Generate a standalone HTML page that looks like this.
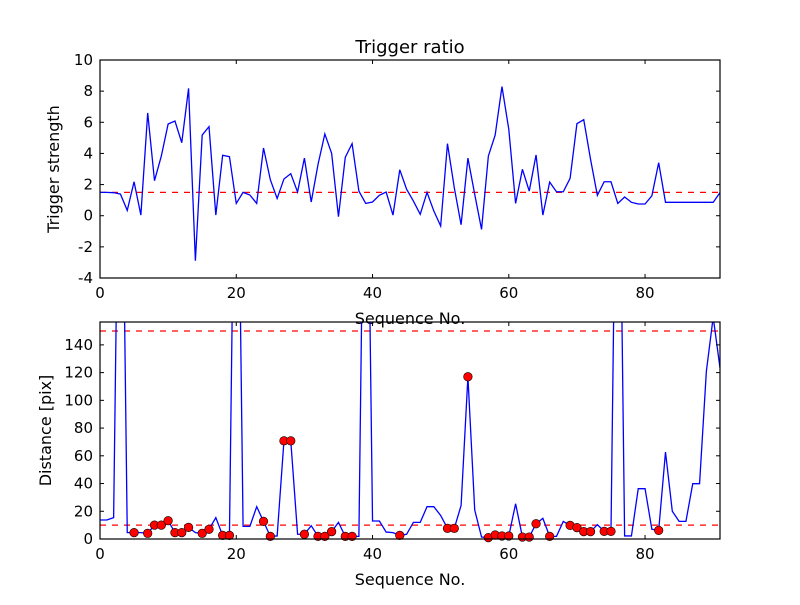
<!DOCTYPE html>
<html><head><meta charset="utf-8"><style>
body{margin:0;background:#fff;width:800px;height:600px;overflow:hidden}
svg text{font-family:"DejaVu Sans","Liberation Sans",sans-serif;fill:#000}
</style></head><body>
<svg id="chart" width="800" height="600" xmlns="http://www.w3.org/2000/svg"></svg>
<script>
const strength = [1.5,1.5,1.48,1.39,0.34,2.18,0.04,6.6,2.25,3.83,5.89,6.08,4.69,8.18,-2.89,5.18,5.72,0.04,3.88,3.79,0.79,1.5,1.33,0.79,4.35,2.31,1.11,2.36,2.7,1.52,3.7,0.88,3.3,5.25,4.0,-0.06,3.75,4.63,1.58,0.79,0.88,1.31,1.52,0.04,2.95,1.7,0.94,0.09,1.5,0.3,-0.66,4.63,1.8,-0.58,3.7,1.37,-0.88,3.83,5.18,8.29,5.55,0.79,2.98,1.58,3.9,0.04,2.16,1.54,1.54,2.4,5.91,6.17,3.62,1.31,2.18,2.18,0.79,1.2,0.86,0.75,0.75,1.28,3.4,0.86,0.86,0.86,0.86,0.86,0.86,0.86,0.86,1.48];
const distance = [13.7,13.7,15.4,1000,4.6,4.6,4.6,4.1,10,10,13.2,4.6,4.6,8.4,4.6,4.1,7,15.4,2.6,2.6,1000,9.1,9.1,23.3,12.7,1.9,2.2,70.8,70.8,3.4,3.4,9.6,1.9,1.9,5.3,12,1.9,1.9,1.9,1000,13,13,5,4.6,2.6,3.4,12,12,23.3,23.3,17,7.7,7.7,24.2,117,20.9,1.4,1,2.9,2.2,2.2,25.4,1.4,1.4,11,14.9,1.9,1.9,12.7,9.8,8.2,5.3,5.3,10.3,5.5,5.5,1000,2.2,2.2,36.3,36.3,7,6.2,62.7,20,12.7,12.7,39.9,39.9,121,160,123.4];
const flagged = [5,7,8,9,10,11,12,13,15,16,18,19,24,25,27,28,30,32,33,34,36,37,44,51,52,54,57,58,59,60,62,63,64,66,69,70,71,72,74,75,82];
const topTicks = [-4,-2,0,2,4,6,8,10];
const botTicks = [0,20,40,60,80,100,120,140];
const xTicks = [0,20,40,60,80];
const strengthThreshold = 1.5;
const distThresholds = [10,150];

const NS="http://www.w3.org/2000/svg", svg=document.getElementById('chart');
function el(t,a,p){const e=document.createElementNS(NS,t);for(const k in a)e.setAttribute(k,a[k]);(p||svg).appendChild(e);return e;}
const L=100,R=720,XMAX=91;
const xs=v=>L+(R-L)*v/XMAX;
function panel(name,top,bot,ymin,ymax,yt,ylabel,ylx){
  const ys=v=>bot-(bot-top)*(v-ymin)/(ymax-ymin);
  const g=el('g',{});
  
  
  const cid='clip-'+name;
  const cp=el('clipPath',{id:cid},g);el('rect',{x:L,y:top,width:R-L,height:bot-top},cp);
  const plot=el('g',{'clip-path':'url(#'+cid+')'},g);
  yt.forEach(v=>{const y=ys(v);
    el('line',{x1:L,x2:L+4,y1:y,y2:y,stroke:'#000'},g);el('line',{x1:R-4,x2:R,y1:y,y2:y,stroke:'#000'},g);
    const t=el('text',{x:L-7,y:y+5,'text-anchor':'end','font-size':'15'},g);t.textContent=v;
    });
  xTicks.forEach(v=>{const x=xs(v);
    el('line',{x1:x,x2:x,y1:bot,y2:bot-4,stroke:'#000'},g);el('line',{x1:x,x2:x,y1:top,y2:top+4,stroke:'#000'},g);
    const t=el('text',{x:x,y:bot+20,'text-anchor':'middle','font-size':'15'},g);t.textContent=v;
    });
  const yl=el('text',{x:ylx,y:(top+bot)/2,'text-anchor':'middle','font-size':'16',transform:`rotate(-90 ${ylx} ${(top+bot)/2})`},g);yl.textContent=ylabel;
  
  const xl=el('text',{x:410,y:bot+46,'text-anchor':'middle','font-size':'16'},g);xl.textContent='Sequence No.';
  
  return {g,plot,ys,top,bot};
}
// top panel
const p1=panel('strength-panel',60,278,-4,10,topTicks,'Trigger strength',59);
const th=el('line',{x1:L,x2:R,y1:p1.ys(strengthThreshold),y2:p1.ys(strengthThreshold),stroke:'red','stroke-width':1.3,'stroke-dasharray':'6,6'},p1.plot);

const l1=el('polyline',{points:strength.map((v,i)=>xs(i)+','+p1.ys(v)).join(' '),fill:'none',stroke:'blue','stroke-width':1.3},p1.plot);

el('rect',{x:L,y:60,width:R-L,height:218,fill:'none',stroke:'#000','stroke-width':1.2},p1.g);
const tt=el('text',{x:410,y:53,'text-anchor':'middle','font-size':'18'});tt.textContent='Trigger ratio';

// bottom panel
const p2=panel('distance-panel',322,539,0,156.5,botTicks,'Distance [pix]',51);
distThresholds.forEach(v=>{const d=el('line',{x1:L,x2:R,y1:p2.ys(v),y2:p2.ys(v),stroke:'red','stroke-width':1.3,'stroke-dasharray':'6,6'},p2.plot);
  });
const l2=el('polyline',{points:distance.map((v,i)=>xs(i)+','+p2.ys(Math.min(v,400))).join(' '),fill:'none',stroke:'blue','stroke-width':1.3},p2.plot);

flagged.forEach(i=>{const c=el('circle',{cx:xs(i),cy:p2.ys(distance[i]),r:4.3,fill:'red',stroke:'#000','stroke-width':0.6},p2.g);
  });
el('rect',{x:L,y:322,width:R-L,height:217,fill:'none',stroke:'#000','stroke-width':1.2},p2.g);
</script>
</body></html>
